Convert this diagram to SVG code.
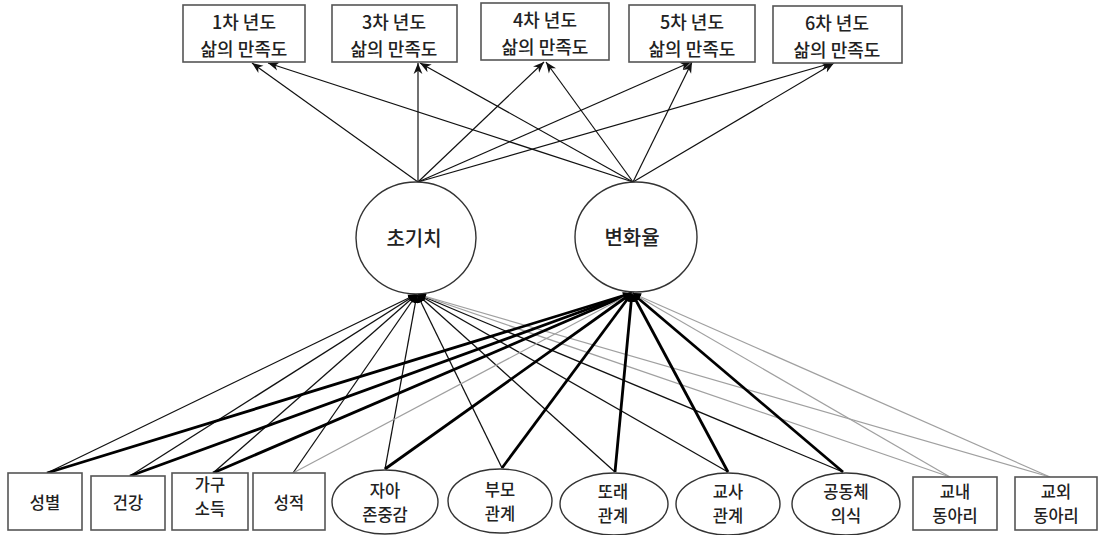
<svg xmlns="http://www.w3.org/2000/svg" width="1100" height="535" viewBox="0 0 1100 535">
<defs>
<style>
.box{fill:#fff;stroke:#555;stroke-width:1.6}
.lat{fill:#fff;stroke:#333;stroke-width:1.4}
.t{font-family:"Noto Sans CJK KR","Noto Sans",sans-serif;fill:#222;text-anchor:middle;font-weight:500}
.tt{font-size:18px}
.tb{font-size:16.5px}
.c{font-size:20px}
.thin{stroke:#111;stroke-width:1.3;fill:none}
.thick{stroke:#000;stroke-width:2.8;fill:none}
.gray{stroke:#a0a0a0;stroke-width:1.2;fill:none}
.arr{stroke:#111;stroke-width:1.2;fill:none;marker-end:url(#ah)}
</style>
<marker id="ah" viewBox="0 0 10 10" refX="10" refY="5" markerWidth="11" markerHeight="11" markerUnits="userSpaceOnUse" orient="auto">
<path d="M0,1 L10,5 L0,9 L3,5 z" fill="#111"/>
</marker>
<marker id="ab" viewBox="0 0 10 10" refX="10" refY="5" markerWidth="9" markerHeight="9" markerUnits="userSpaceOnUse" orient="auto">
<path d="M0,1 L10,5 L0,9 z" fill="#000"/>
</marker>
</defs>
<rect width="1100" height="535" fill="#fff"/>
<g id="connectors">
<g class="arr">
<line x1="418" y1="182" x2="252" y2="63"/>
<line x1="633" y1="182" x2="268" y2="63"/>
<line x1="418" y1="182" x2="418" y2="63"/>
<line x1="633" y1="182" x2="420" y2="63"/>
<line x1="418" y1="182" x2="544" y2="62"/>
<line x1="633" y1="182" x2="546" y2="62"/>
<line x1="418" y1="182" x2="691" y2="62"/>
<line x1="633" y1="182" x2="692" y2="62"/>
<line x1="418" y1="182" x2="832" y2="63"/>
<line x1="633" y1="182" x2="834" y2="63"/>
</g>
<g marker-end="url(#ab)">
<line class="thin" x1="47" y1="473" x2="417" y2="294"/>
<line class="thin" x1="130" y1="476" x2="417" y2="294"/>
<line class="thin" x1="213" y1="473" x2="417" y2="294"/>
<line class="thin" x1="293" y1="473" x2="417" y2="294"/>
<line class="thin" x1="385" y1="469" x2="417" y2="294"/>
<line class="thin" x1="502" y1="468" x2="417" y2="294"/>
<line class="thin" x1="615" y1="472" x2="417" y2="294"/>
<line class="thin" x1="728" y1="472" x2="417" y2="294"/>
<line class="thin" x1="843" y1="472" x2="417" y2="294"/>
<line class="gray" x1="950" y1="477" x2="417" y2="294"/>
<line class="gray" x1="1050" y1="477" x2="417" y2="294"/>
<line class="thick" x1="47" y1="473" x2="632" y2="293"/>
<line class="thick" x1="130" y1="476" x2="632" y2="293"/>
<line class="thick" x1="213" y1="473" x2="632" y2="293"/>
<line class="gray" x1="293" y1="473" x2="632" y2="293"/>
<line class="thick" x1="385" y1="469" x2="632" y2="293"/>
<line class="thick" x1="502" y1="468" x2="632" y2="293"/>
<line class="thick" x1="615" y1="472" x2="632" y2="293"/>
<line class="thick" x1="728" y1="472" x2="632" y2="293"/>
<line class="thick" x1="843" y1="472" x2="632" y2="293"/>
<line class="gray" x1="950" y1="477" x2="632" y2="293"/>
<line class="gray" x1="1050" y1="477" x2="632" y2="293"/>
</g>
</g>
<g id="y1"><rect class="box" x="183" y="5" width="122" height="57"/><text class="t tt" x="244" y="29">1차 년도</text><text class="t tt" x="244" y="56">삶의 만족도</text></g>
<g id="y3"><rect class="box" x="332" y="5" width="125" height="57"/><text class="t tt" x="394" y="29">3차 년도</text><text class="t tt" x="394" y="56">삶의 만족도</text></g>
<g id="y4"><rect class="box" x="481" y="3" width="128" height="57"/><text class="t tt" x="545" y="27">4차 년도</text><text class="t tt" x="545" y="54">삶의 만족도</text></g>
<g id="y5"><rect class="box" x="629" y="5" width="126" height="57"/><text class="t tt" x="692" y="29">5차 년도</text><text class="t tt" x="692" y="56">삶의 만족도</text></g>
<g id="y6"><rect class="box" x="773" y="6" width="129" height="57"/><text class="t tt" x="837" y="30">6차 년도</text><text class="t tt" x="837" y="57">삶의 만족도</text></g>
<g id="init"><ellipse class="lat" cx="416" cy="238" rx="60" ry="56"/><text class="t c" x="414" y="246">초기치</text></g>
<g id="rate"><ellipse class="lat" cx="636" cy="237" rx="61" ry="55"/><text class="t c" x="632" y="245">변화율</text></g>
<g id="gender"><rect class="box" x="8" y="473" width="74" height="57"/><text class="t tb" x="45" y="509">성별</text></g>
<g id="health"><rect class="box" x="91" y="476" width="74" height="54"/><text class="t tb" x="128" y="509">건강</text></g>
<g id="income"><rect class="box" x="172" y="473" width="76" height="57"/><text class="t tb" x="210" y="491">가구</text><text class="t tb" x="210" y="515">소득</text></g>
<g id="grade"><rect class="box" x="253" y="473" width="72" height="57"/><text class="t tb" x="289" y="509">성적</text></g>
<g id="esteem"><ellipse class="lat" cx="385" cy="502" rx="53" ry="32"/><text class="t tb" x="385" y="497">자아</text><text class="t tb" x="385" y="521">존중감</text></g>
<g id="parent"><ellipse class="lat" cx="500" cy="501" rx="52" ry="32"/><text class="t tb" x="500" y="496">부모</text><text class="t tb" x="500" y="520">관계</text></g>
<g id="peer"><ellipse class="lat" cx="614" cy="504" rx="54" ry="31"/><text class="t tb" x="613" y="498">또래</text><text class="t tb" x="613" y="522">관계</text></g>
<g id="teacher"><ellipse class="lat" cx="728" cy="504" rx="52" ry="31"/><text class="t tb" x="728" y="498">교사</text><text class="t tb" x="728" y="522">관계</text></g>
<g id="community"><ellipse class="lat" cx="846" cy="504" rx="54" ry="31"/><text class="t tb" x="846" y="498">공동체</text><text class="t tb" x="846" y="522">의식</text></g>
<g id="clubin"><rect class="box" x="913" y="477" width="84" height="53"/><text class="t tb" x="955" y="498">교내</text><text class="t tb" x="955" y="522">동아리</text></g>
<g id="clubout"><rect class="box" x="1015" y="477" width="82" height="53"/><text class="t tb" x="1056" y="498">교외</text><text class="t tb" x="1056" y="522">동아리</text></g>
</svg>
